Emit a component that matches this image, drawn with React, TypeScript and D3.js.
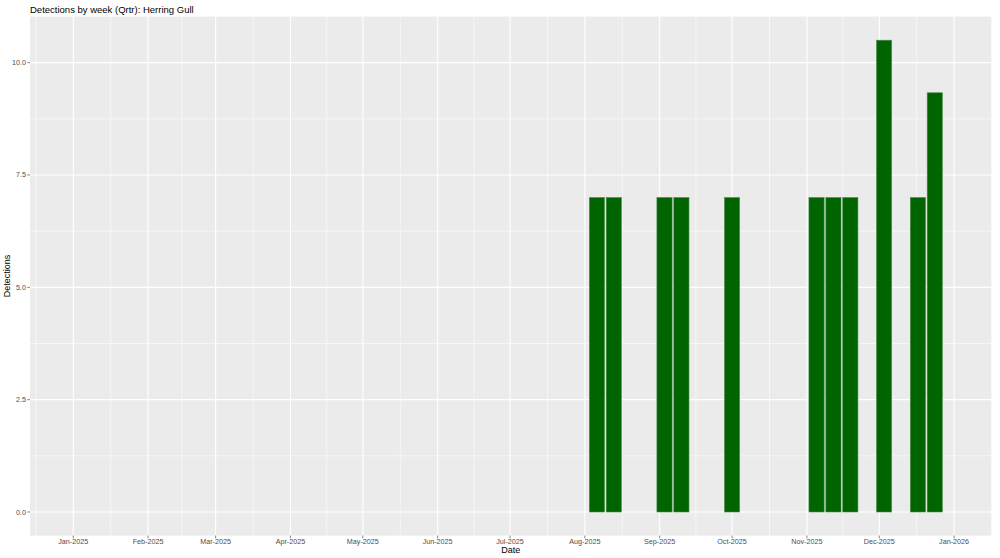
import React from "react";
import * as d3 from "d3";

const title = "Detections by week (Qrtr): Herring Gull";
const weekDates = [
  "2025-08-06", "2025-08-13", "2025-09-03", "2025-09-10", "2025-10-01",
  "2025-11-05", "2025-11-12", "2025-11-19", "2025-12-03", "2025-12-17", "2025-12-24",
];
const detections = [7, 7, 7, 7, 7, 7, 7, 7, 10.5, 7, 9.33];
const yTicks = [0, 2.5, 5, 7.5, 10];
const yMinor = [1.25, 3.75, 6.25, 8.75];
const xTickMonths = [
  "2025-01-01", "2025-02-01", "2025-03-01", "2025-04-01", "2025-05-01", "2025-06-01",
  "2025-07-01", "2025-08-01", "2025-09-01", "2025-10-01", "2025-11-01", "2025-12-01", "2026-01-01",
];

const W = 1000, H = 558;
const P = { left: 30, right: 991.7, top: 16.6, bottom: 535.6 };
const DAY = 86400000;

const parse = (s: string) => new Date(s + "T00:00:00Z");

export default function App() {
  const x = d3.scaleUtc()
    .domain([new Date(Date.UTC(2024, 11, 14, 2)), new Date(Date.UTC(2026, 0, 16, 14))])
    .range([P.left, P.right]);
  const y = d3.scaleLinear().domain([-0.525, 11.025]).range([P.bottom, P.top]);
  const fmt = d3.utcFormat("%b-%Y");
  const majors = xTickMonths.map(parse);
  const majorPx = majors.map((d) => x(d));
  const minorPx: number[] = [];
  for (let i = 0; i < majorPx.length - 1; i++) minorPx.push((majorPx[i] + majorPx[i + 1]) / 2);
  const first = majorPx[0] - (majorPx[1] - majorPx[0]) / 2;
  const last = majorPx[majorPx.length - 1] + (majorPx[1] - majorPx[0]) / 2;
  if (first >= P.left) minorPx.unshift(first);
  if (last <= P.right) minorPx.push(last);
  const halfW = 0.45 * 7 * DAY;
  const font = "'Liberation Sans', Arial, sans-serif";

  return (
    <svg width={W} height={H} style={{ position: "absolute", left: 0, top: 0, display: "block" }} fontFamily={font}>
      <rect x={0} y={0} width={W} height={H} fill="#ffffff" />
      <rect x={P.left} y={P.top} width={P.right - P.left} height={P.bottom - P.top} fill="#EBEBEB" />
      {yMinor.map((v) => (
        <line key={"ym" + v} x1={P.left} x2={P.right} y1={y(v)} y2={y(v)} stroke="#fff" strokeWidth={0.55} />
      ))}
      {minorPx.map((px, i) => (
        <line key={"xm" + i} x1={px} x2={px} y1={P.top} y2={P.bottom} stroke="#fff" strokeWidth={0.55} />
      ))}
      {yTicks.map((v) => (
        <line key={"yM" + v} x1={P.left} x2={P.right} y1={y(v)} y2={y(v)} stroke="#fff" strokeWidth={1.1} />
      ))}
      {majorPx.map((px, i) => (
        <line key={"xM" + i} x1={px} x2={px} y1={P.top} y2={P.bottom} stroke="#fff" strokeWidth={1.1} />
      ))}
      {weekDates.map((s, i) => {
        const d = parse(s).getTime();
        const x0 = x(new Date(d - halfW));
        const x1 = x(new Date(d + halfW));
        return (
          <rect key={"b" + i} x={x0} y={y(detections[i])} width={x1 - x0} height={y(0) - y(detections[i])}
            fill="#006400" stroke="#4f8f4f" strokeWidth={0.6} />
        );
      })}
      {yTicks.map((v) => (
        <g key={"yt" + v}>
          <line x1={P.left - 2.7} x2={P.left} y1={y(v)} y2={y(v)} stroke="#333" strokeWidth={0.6} />
          <text x={P.left - 4} y={y(v) + 2.5} textAnchor="end" fontSize={7.2} fill="#4D4D4D">{v.toFixed(1)}</text>
        </g>
      ))}
      {majors.map((d, i) => (
        <g key={"xt" + i}>
          <line x1={majorPx[i]} x2={majorPx[i]} y1={P.bottom} y2={P.bottom + 2.7} stroke="#333" strokeWidth={0.6} />
          <text x={majorPx[i]} y={P.bottom + 8.3} textAnchor="middle" fontSize={7.2} fill="#4D4D4D">{fmt(d)}</text>
        </g>
      ))}
      <text x={(P.left + P.right) / 2} y={552.6} textAnchor="middle" fontSize={9} fill="#000">Date</text>
      <text transform={`translate(10, ${(P.top + P.bottom) / 2}) rotate(-90)`} textAnchor="middle" fontSize={9} fill="#000">Detections</text>
      <text x={P.left} y={13.3} fontSize={9.5} fill="#000">{title}</text>
    </svg>
  );
}
